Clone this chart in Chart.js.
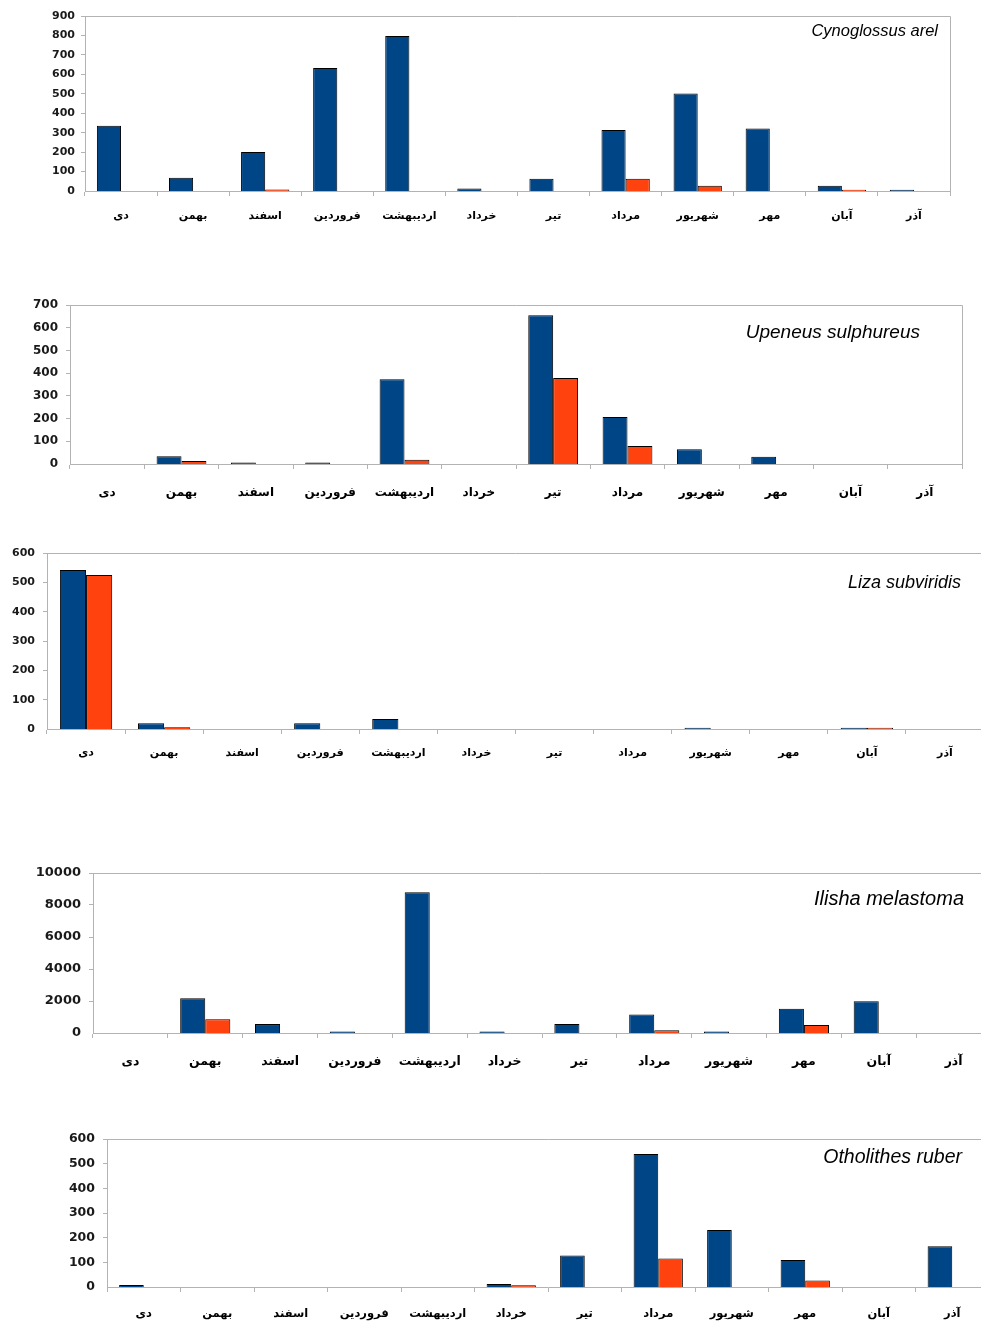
<!DOCTYPE html>
<html>
<head>
<meta charset="utf-8">
<script src="https://cdn.jsdelivr.net/npm/chart.js@4/dist/chart.umd.min.js"></script>
<style>
  html, body { margin: 0; padding: 0; background: #fff; }
  body { width: 981px; height: 1324px; overflow: hidden; position: relative; }
  .panel { position: absolute; left: 0; }
</style>
</head>
<body>
<div class="panel" id="p1"><canvas id="c1"></canvas></div>
<div class="panel" id="p2"><canvas id="c2"></canvas></div>
<div class="panel" id="p3"><canvas id="c3"></canvas></div>
<div class="panel" id="p4"><canvas id="c4"></canvas></div>
<div class="panel" id="p5"><canvas id="c5"></canvas></div>
<script>
// Persian months, in the order they run along each x axis
const months = ['دی', 'بهمن', 'اسفند', 'فروردین', 'اردیبهشت', 'خرداد', 'تیر', 'مرداد', 'شهریور', 'مهر', 'آبان', 'آذر'];

// Species shown in each panel
const species = ['Cynoglossus arel', 'Upeneus sulphureus', 'Liza subviridis', 'Ilisha melastoma', 'Otholithes ruber'];

// Cynoglossus arel
const arelBlue   = [335, 68, 201, 633, 797, 13, 63, 314, 502, 321, 27, 6];
const arelOrange = [0, 0, 8, 0, 0, 0, 0, 63, 27, 0, 7, 0];

// Upeneus sulphureus
const sulphBlue   = [0, 34, 7, 7, 373, 0, 655, 207, 65, 32, 0, 0];
const sulphOrange = [0, 13, 0, 0, 19, 0, 379, 79, 0, 0, 0, 0];

// Liza subviridis
const lizaBlue   = [542, 20, 0, 20, 34, 0, 0, 0, 4, 0, 4, 0];
const lizaOrange = [525, 6, 0, 0, 0, 0, 0, 0, 0, 0, 4, 0];

// Ilisha melastoma
const ilishaBlue   = [0, 2170, 560, 100, 8790, 100, 560, 1150, 100, 1520, 1980, 0];
const ilishaOrange = [0, 860, 0, 0, 0, 0, 0, 170, 0, 500, 0, 0];

// Otholithes ruber
const ruberBlue   = [8, 0, 0, 0, 0, 12, 128, 539, 231, 109, 0, 165];
const ruberOrange = [0, 0, 0, 0, 0, 7, 0, 116, 0, 26, 0, 0];

// Value axis range per panel
const yMax  = [900, 700, 600, 10000, 600];
const yStep = [100, 100, 100, 2000, 100];

const BLUE = '#004586';
const ORANGE = '#ff420e';
const AXIS = '#b3b3b3';

// Panel layout: plot box in page pixels, fonts and title placement
const panels = [
  { top: 16,   bottom: 191,  left: 85,  right: 950, yFont: 11,   yPad: 6, xFont: 11,   xPad: 14, tRight: 12, tTop: 15, tSize: 16.5, blue: arelBlue,   orange: arelOrange },
  { top: 305,  bottom: 464,  left: 70,  right: 962, yFont: 12,   yPad: 8, xFont: 12,   xPad: 17, tRight: 42, tTop: 28, tSize: 19,   blue: sulphBlue,  orange: sulphOrange },
  { top: 553,  bottom: 729,  left: 47,  right: 984, yFont: 11,   yPad: 8, xFont: 11,   xPad: 13, tRight: 23, tTop: 30, tSize: 18,   blue: lizaBlue,   orange: lizaOrange },
  { top: 873,  bottom: 1033, left: 93,  right: 991, yFont: 13,   yPad: 8, xFont: 12.5, xPad: 16, tRight: 27, tTop: 26, tSize: 20,   blue: ilishaBlue, orange: ilishaOrange },
  { top: 1139, bottom: 1287, left: 107, right: 989, yFont: 12.5, yPad: 8, xFont: 11.5, xPad: 15, tRight: 27, tTop: 19, tSize: 19.5, blue: ruberBlue,  orange: ruberOrange }
];

const PAD_TOP = 20;
const X_AXIS_H = 48;

// Grey frame round the plot area plus the italic species name inside it
const framePlugin = {
  id: 'frameAndName',
  afterDraw(chart, args, opts) {
    const { ctx, chartArea: a } = chart;
    ctx.save();
    ctx.strokeStyle = AXIS;
    ctx.lineWidth = 1;
    ctx.beginPath();
    ctx.moveTo(a.left, a.top + 0.5);
    ctx.lineTo(a.right + 0.5, a.top + 0.5);
    ctx.lineTo(a.right + 0.5, a.bottom);
    ctx.stroke();
    ctx.fillStyle = '#000';
    ctx.font = 'italic ' + opts.size + 'px "Liberation Sans", Arial, sans-serif';
    ctx.textAlign = 'right';
    ctx.textBaseline = 'middle';
    ctx.fillText(opts.text, a.right - opts.right, a.top + opts.y);
    ctx.restore();
  }
};

panels.forEach((p, i) => {
  const canvasW = Math.max(981, p.right + 12);
  const canvasH = PAD_TOP + (p.bottom - p.top) + X_AXIS_H;
  const wrap = document.getElementById('p' + (i + 1));
  wrap.style.top = (p.top - PAD_TOP) + 'px';
  wrap.style.width = canvasW + 'px';
  wrap.style.height = canvasH + 'px';
  const cv = document.getElementById('c' + (i + 1));
  cv.width = canvasW;
  cv.height = canvasH;

  new Chart(cv, {
    type: 'bar',
    data: {
      labels: months,
      datasets: [
        { data: p.blue, backgroundColor: BLUE, borderColor: '#000', borderWidth: 1 },
        { data: p.orange, backgroundColor: ORANGE, borderColor: '#000', borderWidth: 1 }
      ]
    },
    options: {
      responsive: false,
      animation: false,
      devicePixelRatio: 1,
      categoryPercentage: 0.67,
      barPercentage: 1.0,
      layout: { padding: { top: PAD_TOP, bottom: 0, left: 0, right: canvasW - p.right } },
      plugins: {
        legend: { display: false },
        tooltip: { enabled: false },
        frameAndName: { text: species[i], right: p.tRight, y: p.tTop, size: p.tSize }
      },
      scales: {
        x: {
          offset: true,
          grid: { offset: true, drawOnChartArea: false, drawTicks: true, tickLength: 5, color: AXIS },
          border: { display: true, color: AXIS },
          ticks: {
            autoSkip: false, maxRotation: 0, minRotation: 0, padding: p.xPad, color: '#000',
            font: { family: '"DejaVu Sans", sans-serif', weight: 'bold', size: p.xFont }
          },
          afterFit(scale) { scale.height = X_AXIS_H; }
        },
        y: {
          min: 0, max: yMax[i],
          grid: {
            drawOnChartArea: false, drawTicks: true, tickLength: 4, color: AXIS,
            // the zero tick sits on the x axis line, so bars run right down to it
            lineWidth: (c) => (c.tick && c.tick.value === 0 ? 0 : 1)
          },
          border: { display: true, color: AXIS },
          ticks: {
            stepSize: yStep[i], padding: p.yPad, color: '#1a1a1a',
            font: { family: '"DejaVu Sans", sans-serif', weight: 'bold', size: p.yFont },
            callback: (v) => String(v)
          },
          afterFit(scale) { scale.width = p.left; }
        }
      }
    },
    plugins: [framePlugin]
  });
});
</script>
</body>
</html>
